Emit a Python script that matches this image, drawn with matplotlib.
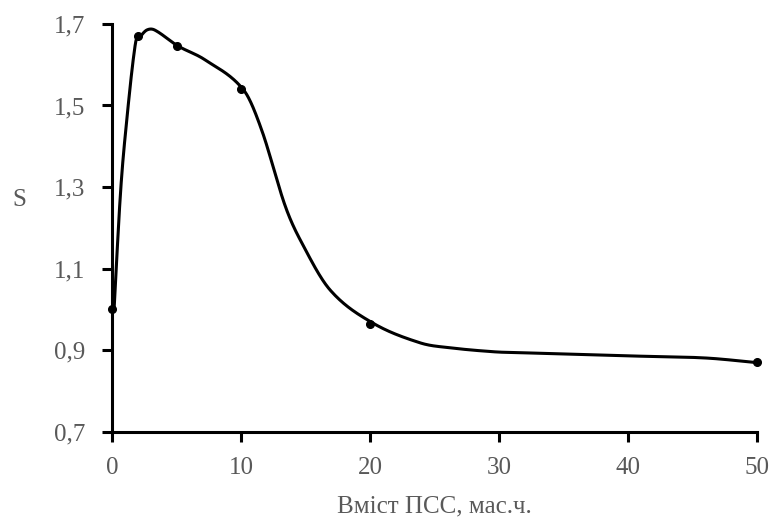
import numpy as np
from matplotlib import pyplot as plt

# measured points (markers)
pss = [0, 2, 5, 10, 20, 50]
s_val = [1.0, 1.67, 1.645, 1.54, 0.965, 0.87]

# points
curve_x = [0.15, 0.62, 1.0, 1.8, 2.17, 2.7, 3.3, 5.1, 7.2, 10.2, 11.6, 13.4,
           14.6, 16.9, 20.2, 23.9, 26.2, 29.7, 31.6, 40.2, 46.0, 50.2]
curve_y = [0.997, 1.27, 1.42, 1.65, 1.668, 1.685, 1.685, 1.646, 1.612, 1.538,
           1.44, 1.256, 1.17, 1.048, 0.967, 0.918, 0.906, 0.896, 0.894, 0.886,
           0.881, 0.869]

xticks = [0, 10, 20, 30, 40, 50]
yticks = [0.7, 0.9, 1.1, 1.3, 1.5, 1.7]


def smooth(xs, ys, n=40):
    # cubic hermite in x, tangents from neighbouring points
    xs = np.asarray(xs, float)
    ys = np.asarray(ys, float)
    m = np.empty_like(ys)
    m[1:-1] = (ys[2:] - ys[:-2]) / (xs[2:] - xs[:-2])
    m[0] = (ys[1] - ys[0]) / (xs[1] - xs[0])
    m[-1] = (ys[-1] - ys[-2]) / (xs[-1] - xs[-2])
    ox, oy = [], []
    for i in range(len(xs) - 1):
        h = xs[i + 1] - xs[i]
        t = np.linspace(0, 1, n, endpoint=False)
        h00 = 2 * t ** 3 - 3 * t ** 2 + 1
        h10 = t ** 3 - 2 * t ** 2 + t
        h01 = -2 * t ** 3 + 3 * t ** 2
        h11 = t ** 3 - t ** 2
        ox.append(xs[i] + t * h)
        oy.append(h00 * ys[i] + h10 * h * m[i] + h01 * ys[i + 1] + h11 * h * m[i + 1])
    ox.append([xs[-1]])
    oy.append([ys[-1]])
    return np.concatenate(ox), np.concatenate(oy)


plt.rcParams['font.family'] = ['Liberation Serif', 'DejaVu Serif']
gray = '#595959'

fig = plt.figure(figsize=(7.73, 5.19), dpi=100)
ax = fig.add_axes([0.145, 0.168, 0.834, 0.786])

sx, sy = smooth(curve_x, curve_y)
ax.plot(sx, sy, color='black', lw=2.2, solid_capstyle='round', clip_on=False)
ax.plot(pss, s_val, 'o', color='black', ms=5.5, clip_on=False)

ax.set_xlim(0, 50)
ax.set_ylim(0.7, 1.7)
ax.set_xticks(xticks)
ax.set_yticks(yticks)
ax.set_yticklabels([f'{v:.1f}'.replace('.', ',') for v in yticks])
ax.set_xticklabels([str(v) for v in xticks])

for side in ['top', 'right']:
    ax.spines[side].set_visible(False)
for side in ['left', 'bottom']:
    ax.spines[side].set_linewidth(2.2)

ax.tick_params(direction='out', length=7, width=2.2, labelsize=18,
               labelcolor=gray)
ax.tick_params(axis='y', pad=12)
ax.tick_params(axis='x', pad=11)

ax.set_xlabel('Вміст ПСС, мас.ч.', fontsize=18, color=gray)
ax.xaxis.set_label_coords(0.5, -0.155)
ax.set_ylabel('S', fontsize=18, color=gray, rotation=0, va='center', ha='center')
ax.yaxis.set_label_coords(-0.144, 0.569)

fig.savefig('out.png', dpi=100)
